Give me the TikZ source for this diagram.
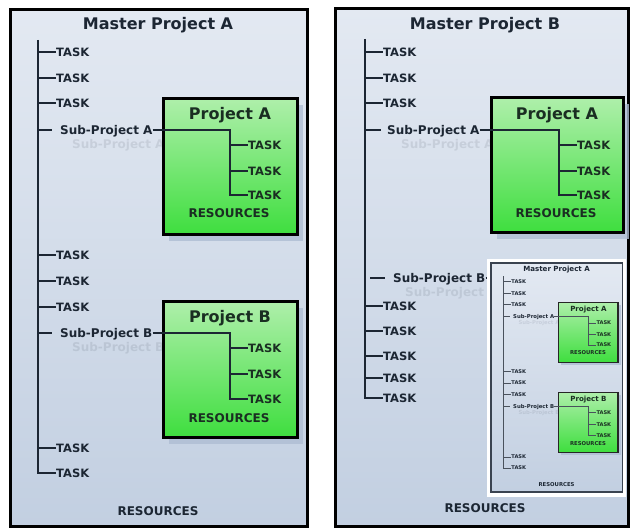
\documentclass[tikz,border=0pt]{standalone}
\usepackage{fontspec}
\setmainfont{DejaVu Sans}
\definecolor{ink}{HTML}{1C2633}
\definecolor{greenink}{HTML}{1A2E22}
\definecolor{panelTop}{HTML}{E3E9F2}
\definecolor{panelBot}{HTML}{C2CFE1}
\definecolor{greenTop}{HTML}{AEEFAA}
\definecolor{greenBot}{HTML}{3EDE3E}
\definecolor{shadowC}{HTML}{AEBDD3}
\definecolor{frameGray}{HTML}{3A4350}
\tikzset{
  panel/.style={draw=black, line width=3pt, top color=panelTop, bottom color=panelBot},
  proj/.style={draw=black, line width=3pt, top color=greenTop, bottom color=greenBot},
  shadowbox/.style={fill=shadowC, draw=none, opacity=0.8},
  conn/.style={draw=ink, line width=1.5pt},
  tasklbl/.style={anchor=west, inner sep=0pt, text depth=0pt, font=\bfseries\fontsize{11.5}{12}\selectfont, text=ink},
  sublbl/.style={anchor=west, inner sep=0pt, text depth=0pt, font=\bfseries\fontsize{12}{13}\selectfont, text=ink},
  ghostlbl/.style={sublbl, text opacity=0.1},
  reslbl/.style={inner sep=0pt, font=\bfseries\fontsize{12}{13}\selectfont, text=ink},
  titlelbl/.style={inner sep=0pt, font=\bfseries\fontsize{16}{17}\selectfont, text=ink},
  projtitle/.style={inner sep=0pt, font=\bfseries\fontsize{16}{17}\selectfont, text=greenink},
  projtask/.style={tasklbl, text=greenink},
  projres/.style={reslbl, text=greenink},
}
% Master Project A, drawn in local coordinates (panel 297 x 517)
\newcommand\drawMasterA{%
  \draw[panel] (0,0) rectangle (297,517);
  \node[titlelbl] (title) at (148,15) {Master Project A};
  \coordinate (top) at (28,30);
  \foreach \n/\y in {t1/42,t2/68,t3/93,t4/245,t5/271,t6/297,t7/438,t8/463}
    {\node[tasklbl] (\n) at (46,\y) {TASK};}
  \node[ghostlbl] (ga) at (62,134) {Sub-Project A};
  \node[ghostlbl] (gb) at (62,337) {Sub-Project B};
  \node[sublbl] (sa) at (50,120) {Sub-Project A};
  \node[sublbl] (sb) at (50,323) {Sub-Project B};
  \draw[conn] (top) |- (t8.west);
  \foreach \n in {t1,t2,t3,t4,t5,t6,t7}
    {\draw[conn] (top |- \n.west) -- (\n.west);}
  \draw[conn] (top |- sa.west) -- ++(14,0);
  \draw[conn] (top |- sb.west) -- ++(14,0);
  % Project A
  \fill[shadowbox] (159,95) rectangle (293,231);
  \draw[proj] (153,89) rectangle (287,225);
  \node[projtitle] (pat) at (220,105) {Project A};
  \foreach \n/\y in {pa1/135,pa2/161,pa3/185}
    {\node[projtask] (\n) at (238,\y) {TASK};}
  \node[projres] (par) at (219,203) {RESOURCES};
  \coordinate (pak) at (220,120);
  \draw[conn] (sa.east) -- (pak) |- (pa3.west);
  \draw[conn] (pak |- pa1.west) -- (pa1.west);
  \draw[conn] (pak |- pa2.west) -- (pa2.west);
  % Project B
  \fill[shadowbox] (159,298) rectangle (293,434);
  \draw[proj] (153,292) rectangle (287,428);
  \node[projtitle] (pbt) at (220,308) {Project B};
  \foreach \n/\y in {pb1/338,pb2/364,pb3/389}
    {\node[projtask] (\n) at (238,\y) {TASK};}
  \node[projres] (pbr) at (219,408) {RESOURCES};
  \coordinate (pbk) at (220,323);
  \draw[conn] (sb.east) -- (pbk) |- (pb3.west);
  \draw[conn] (pbk |- pb1.west) -- (pb1.west);
  \draw[conn] (pbk |- pb2.west) -- (pb2.west);
  \node[reslbl] (res) at (148,501) {RESOURCES};
}
\begin{document}
\begin{tikzpicture}[x=1pt,y=-1pt]
  \useasboundingbox[fill=white] (0,0) rectangle (630,529);
  % left panel
  \begin{scope}[shift={(10,10)}, name prefix=L-]
    \drawMasterA
  \end{scope}
  % right panel
  \begin{scope}[shift={(335,9)}, name prefix=R-]
    \draw[panel] (0,0) rectangle (293,518);
    \node[titlelbl] (title) at (150,16) {Master Project B};
    \coordinate (top) at (30,30);
    \foreach \n/\y in {b1/43,b2/69,b3/94,b4/297,b5/322,b6/347,b7/369,b8/389}
      {\node[tasklbl] (\n) at (48,\y) {TASK};}
    \node[ghostlbl] (ga) at (66,135) {Sub-Project A};
    \node[ghostlbl] (gb) at (70,283) {Sub-Project};
    \node[sublbl] (sa) at (52,121) {Sub-Project A};
    \node[sublbl] (sb) at (58,269) {Sub-Project B};
    \draw[conn] (top) |- (b8.west);
    \foreach \n in {b1,b2,b3,b4,b5,b6,b7}
      {\draw[conn] (top |- \n.west) -- (\n.west);}
    \draw[conn] (top |- sa.west) -- ++(16,0);
    \draw[conn] ([xshift=5pt]top |- sb.west) -- ++(15,0);
    % Project A
    \fill[shadowbox] (162,95) rectangle (294,230);
    \draw[proj] (156,89) rectangle (288,224);
    \node[projtitle] (pat) at (222,106) {Project A};
    \foreach \n/\y in {pa1/136,pa2/162,pa3/186}
      {\node[projtask] (\n) at (242,\y) {TASK};}
    \node[projres] (par) at (221,204) {RESOURCES};
    \coordinate (pak) at (224,121);
    \draw[conn] (sa.east) -- (pak) |- (pa3.west);
    \draw[conn] (pak |- pa1.west) -- (pa1.west);
    \draw[conn] (pak |- pa2.west) -- (pa2.west);
    % inset: Master Project A, scaled
    \coordinate (insetL) at (156,269);
    \draw[conn] (sb.east) -- (insetL);
    \draw[white, line width=4pt] (154,252) rectangle (289,486);
    \begin{scope}[shift={(156,254)}, scale=0.443, transform shape, name prefix=I-,
        panel/.style={draw=frameGray, line width=1.6pt, top color=panelTop, bottom color=panelBot},
        proj/.style={draw=black!85, line width=1.4pt, top color=greenTop, bottom color=greenBot},
        conn/.style={draw=ink!80, line width=0.6pt}]
      \drawMasterA
    \end{scope}
    \node[reslbl] (res) at (150,499) {RESOURCES};
  \end{scope}
\end{tikzpicture}
\end{document}
